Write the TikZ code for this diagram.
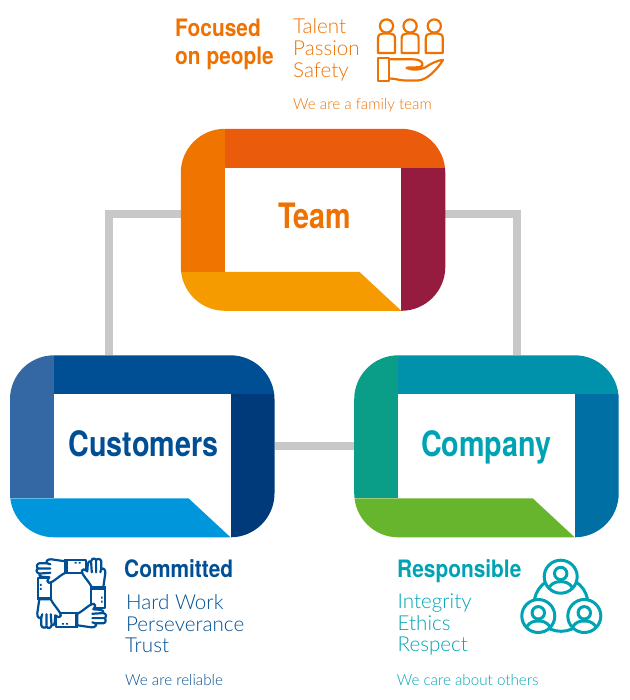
\documentclass[tikz,border=0pt]{standalone}
\usepackage{fontspec}
\setmainfont{Lato}
\newfontfamily\headf[FakeStretch=0.87]{TeX Gyre Heros Bold}
\newfontfamily\labelf[FakeStretch=0.82]{TeX Gyre Heros Bold}
\newfontfamily\lightf{Lato Light}
\definecolor{teamtxt}{HTML}{EE7203}
\definecolor{custtxt}{HTML}{004F94}
\definecolor{comptxt}{HTML}{00A3B4}
\definecolor{linkgray}{HTML}{C8C8C8}
\definecolor{teamL}{HTML}{F07400}
\definecolor{teamT}{HTML}{EA5B0C}
\definecolor{teamR}{HTML}{951B3F}
\definecolor{teamB}{HTML}{F59B00}
\definecolor{custL}{HTML}{3468A5}
\definecolor{custT}{HTML}{004F94}
\definecolor{custR}{HTML}{003A7A}
\definecolor{custB}{HTML}{0096DB}
\definecolor{compL}{HTML}{0A9E88}
\definecolor{compT}{HTML}{0091AB}
\definecolor{compR}{HTML}{006FA3}
\definecolor{compB}{HTML}{67B42D}
% speech-bubble frame: left, top, then left/top/right/bottom band colours
\newcommand{\speechbox}[6]{%
  \begin{scope}[shift={(#1,#2)}]
    \begin{scope}
      \clip[rounded corners=44pt] (0,0) rectangle (264.5,182);
      \fill[#3] (-1,-1) rectangle (44,143);
      \fill[#4] (44,-1) rectangle (266,39);
      \fill[#5] (220.5,39) rectangle (266,183);
      \fill[#6] (-1,143) -- (178.5,143) -- (220.5,182) -- (220.5,183) -- (-1,183) -- cycle;
    \end{scope}
  \end{scope}}
\tikzset{
  x=1pt,y=-1pt,
  boxframe/.style={inner sep=0pt,minimum width=264.5pt,minimum height=182pt},
  link/.style={draw=linkgray,line width=8pt},
  boxlabel/.style={font=\labelf\fontsize{35}{35}\selectfont,anchor=base,inner sep=0pt},
  title/.style={font=\headf\fontsize{24}{24}\selectfont,anchor=base west,inner sep=0pt},
  word/.style={font=\lightf\fontsize{20.6}{20.6}\selectfont,anchor=base west,inner sep=0pt},
  motto/.style={font=\lightf\fontsize{15.2}{15.2}\selectfont,anchor=base west,inner sep=0pt},
  icon/.style={line width=2.2pt,line join=round,line cap=round},
}
\begin{document}
\begin{tikzpicture}
\useasboundingbox (0,0) rectangle (629,700);

% frames that the links attach to
\node[boxframe] (team) at (313,219.8) {};
\node[boxframe] (customers) at (142.2,446.3) {};
\node[boxframe] (company) at (486.4,446.3) {};
\coordinate (leftrun) at (109,214);
\coordinate (rightrun) at (517,214);

\draw[link] (customers.north -| leftrun) -- (leftrun) -- (team.west |- leftrun);
\draw[link] (company.north -| rightrun) -- (rightrun) -- (team.east |- rightrun);
\draw[link] (customers.east) -- (company.west);

\speechbox{180.8}{128.8}{teamL}{teamT}{teamR}{teamB}
\speechbox{10}{355.3}{custL}{custT}{custR}{custB}
\speechbox{354.2}{355.3}{compL}{compT}{compR}{compB}

\node[boxlabel,text=teamtxt] (teamlabel) at (314.8,229) {Team};
\node[boxlabel,text=custtxt] (custlabel) at (143.5,456) {Customers};
\node[boxlabel,text=comptxt] (complabel) at (486.2,456) {Company};

% Team texts
\begin{scope}[text=teamtxt]
\node[title] (t1) at (175,37) {Focused};
\node[title] (t2) at (175,64.5) {on people};
\node[word] (t3) at (293,33.3) {Talent};
\node[word] (t4) at (293,55.8) {Passion};
\node[word] (t5) at (293,77.3) {Safety};
\node[motto] (t6) at (293,110) {We are a family team};
\end{scope}

% Customers texts
\begin{scope}[text=custtxt]
\node[title] (c1) at (124,577) {Committed};
\node[word] (c2) at (126,609) {Hard Work};
\node[word] (c3) at (126,631) {Perseverance};
\node[word] (c4) at (125,652.7) {Trust};
\node[motto] (c5) at (125,685.7) {We are reliable};
\end{scope}

% Company texts
\begin{scope}[text=comptxt]
\node[title] (p1) at (397,577) {Responsible};
\node[word] (p2) at (397.5,608) {Integrity};
\node[word] (p3) at (397.5,630) {Ethics};
\node[word] (p4) at (397.5,651.7) {Respect};
\node[motto] (p5) at (396.6,685.7) {We care about others};
\end{scope}

% people held in an open hand
\begin{scope}[icon,draw=teamtxt]
\foreach \dx in {0,23.6,47.8}{
  \begin{scope}[xshift=\dx pt]
    \draw (386.5,26) ellipse [x radius=6.6,y radius=6.6];
    \draw (378,53) -- (378,38.5) .. controls (378,35) and (380,33.5) .. (383,33.5)
      -- (390,33.5) .. controls (393,33.5) and (395,35) .. (395,38.5) -- (395,53) -- cycle;
  \end{scope}}
\draw (378,57.7) rectangle (389.3,80.7);
\draw (389.3,59.3) -- (413,59.3) .. controls (423,59.3) and (425,66) .. (420,67)
  .. controls (413,68) and (408,67) .. (406.5,68)
  .. controls (412,70.5) and (420,70) .. (425,67.5)
  .. controls (430,64) and (438,60) .. (443,60)
  .. controls (438,68) and (428,80) .. (418,80.5)
  -- (405,80.5) .. controls (400,80.5) and (395,78.5) .. (389.3,78.5);
\end{scope}

% four linked arms: sleeves first, then hands over the neighbouring sleeve
\begin{scope}[shift={(71.3,593.3)},icon,draw=custtxt]
\foreach \r in {0,-90,-180,-270}{
  \begin{scope}[rotate=\r]
    \draw[fill=white] (-6,-33.3) rectangle (15,-20);
    \fill[custtxt] (-7,-34.4) rectangle (-3.5,-18.9);
    \fill[custtxt] (3.4,-31.4) rectangle (5.4,-29.8) (7.4,-31.4) rectangle (9.4,-29.8);
  \end{scope}}
\foreach \r in {0,-90,-180,-270}{
  \begin{scope}[rotate=\r]
    \draw[fill=white] (-6,-32) -- (-20,-34) .. controls (-24,-34.5) and (-26,-31.5) .. (-24,-30)
      -- (-32,-30) .. controls (-35,-29.5) and (-35,-25.5) .. (-33,-24.8)
      .. controls (-35.5,-24) and (-35.5,-20.5) .. (-32,-19.8)
      .. controls (-33,-18) and (-31,-16.5) .. (-29,-16.5) -- (-22,-16)
      .. controls (-24,-13) and (-25,-11) .. (-22.5,-10.5)
      .. controls (-19,-10) and (-13,-17) .. (-6,-20.5) -- cycle;
    \draw (-32,-24.8) -- (-21,-24.8) (-24,-30) -- (-21,-29) (-31,-19.8) -- (-21,-20.5);
  \end{scope}}
\end{scope}

% three people in a linked ring
\begin{scope}[line width=3pt,draw=comptxt]
\draw[draw=comptxt] (561,604.3) circle [radius=27];
\foreach \cx/\cy in {560.7/576.7,538.3/616,584.3/616}{
  \begin{scope}[shift={(\cx,\cy)}]
    \draw[fill=white] (0,0) circle [radius=16.5];
    \begin{scope}
      \clip (0,0) circle [radius=16.5];
      \draw (0,-3.2) circle [radius=6.2];
      \draw (-12,11) .. controls (-8,5.5) and (-4,5) .. (0,5) .. controls (4,5) and (8,5.5) .. (12,11);
    \end{scope}
  \end{scope}}
\end{scope}
\end{tikzpicture}
\end{document}
